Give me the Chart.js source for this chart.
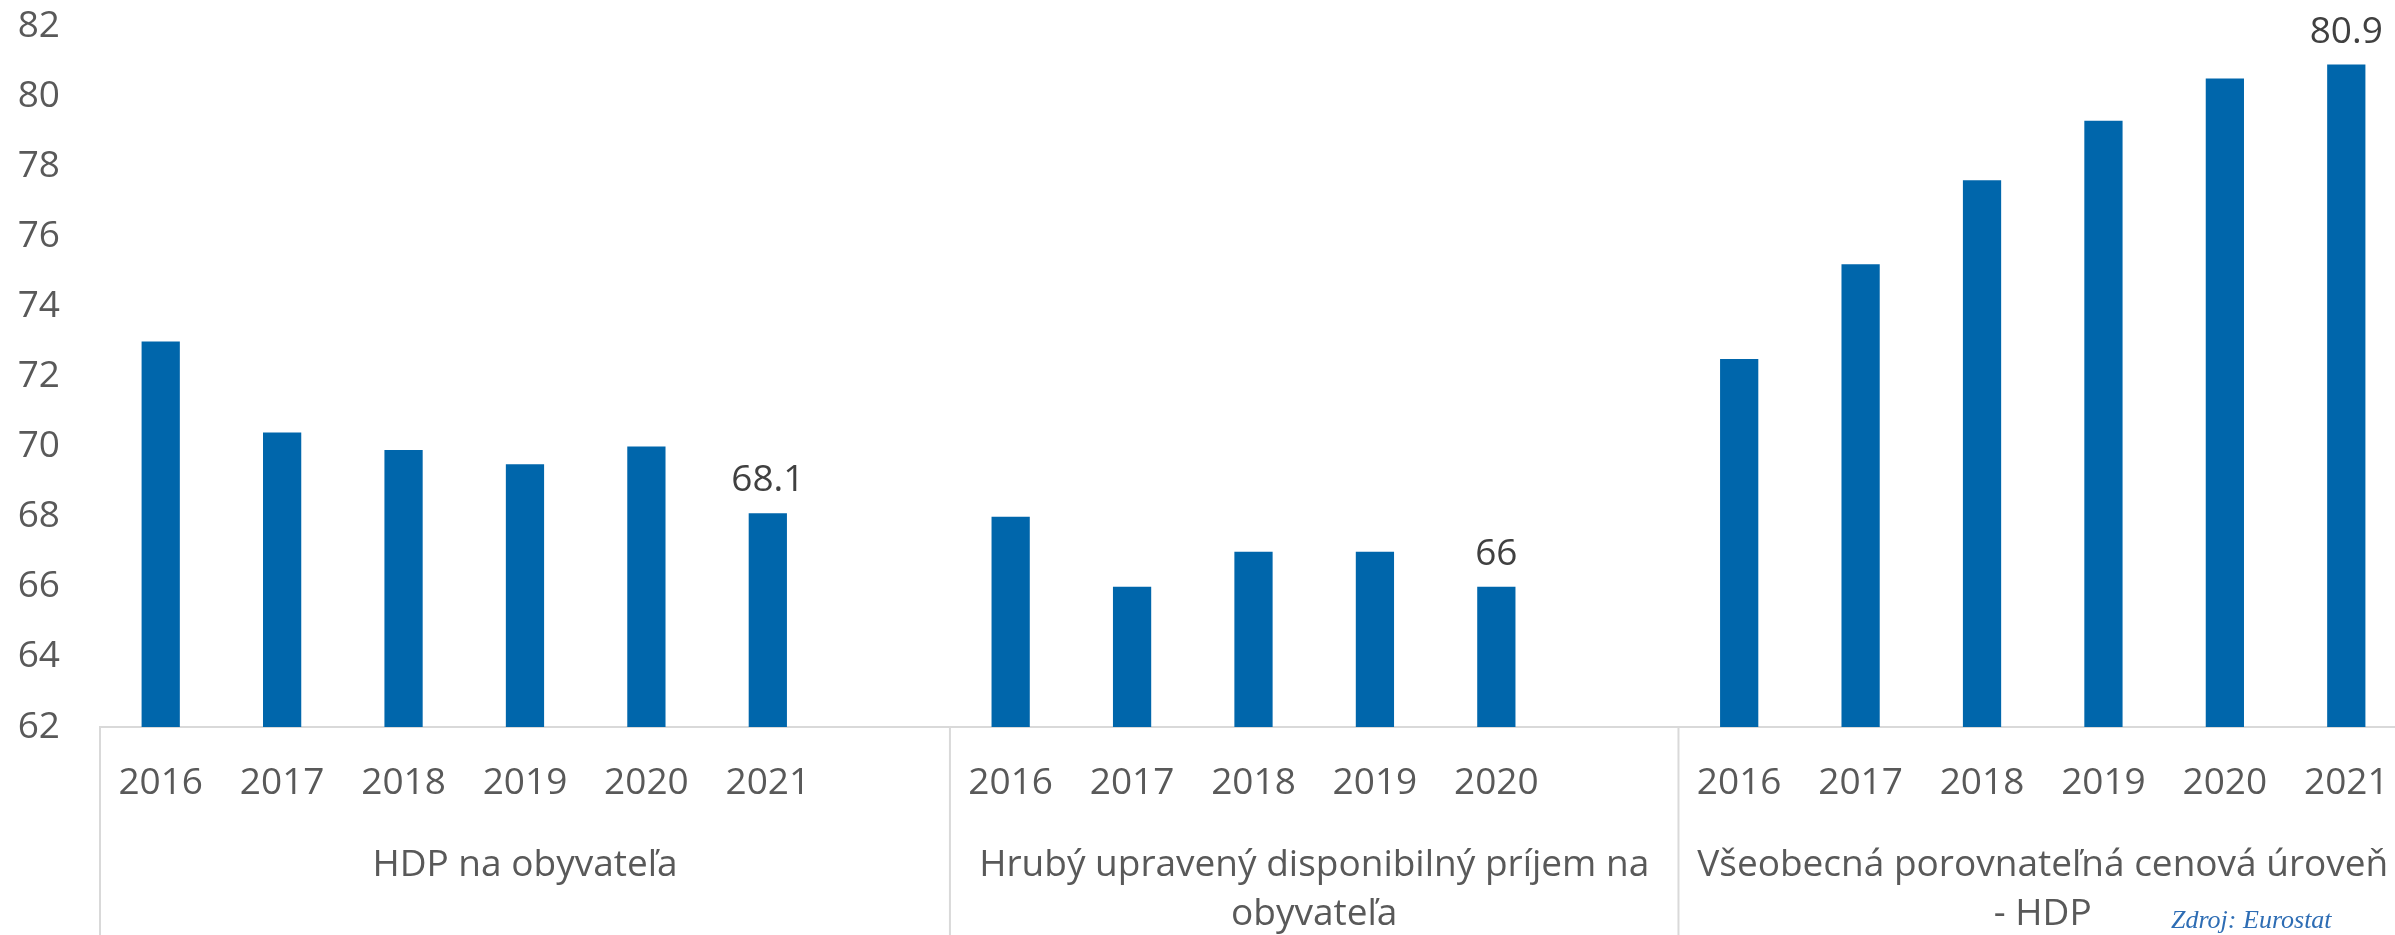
<!DOCTYPE html>
<html>
<head>
<meta charset="utf-8">
<script src="https://cdn.jsdelivr.net/npm/chart.js@4/dist/chart.umd.min.js"></script>
<style>
  html, body { margin: 0; padding: 0; background: #fff; overflow: hidden; }
  #wrap { width: 2407px; height: 935px; }
</style>
</head>
<body>
<div id="wrap"><canvas id="js-chart-bars" width="2407" height="935"></canvas></div>
<script>
// Data
const groupLabels = [
  ['HDP na obyvateľa'],
  ['Hrubý upravený disponibilný príjem na', 'obyvateľa'],
  ['Všeobecná porovnateľná cenová úroveň', '- HDP']
];
const hdpYears = ['2016', '2017', '2018', '2019', '2020', '2021'];
const hdpValues = [73.0, 70.4, 69.9, 69.5, 70.0, 68.1];
const prijemYears = ['2016', '2017', '2018', '2019', '2020'];
const prijemValues = [68, 66, 67, 67, 66];
const cenyYears = ['2016', '2017', '2018', '2019', '2020', '2021'];
const cenyValues = [72.5, 75.2, 77.6, 79.3, 80.5, 80.9];
const yTicks = [62, 64, 66, 68, 70, 72, 74, 76, 78, 80, 82];
const sourceText = 'Zdroj: Eurostat';

// Excel-like layout: one empty slot closes the first two groups
const blocks = [
  { years: hdpYears, values: hdpValues, gap: 1 },
  { years: prijemYears, values: prijemValues, gap: 1 },
  { years: cenyYears, values: cenyValues, gap: 0 }
];

let labels = [], values = [], groupStart = [], lastIdx = [];
blocks.forEach(b => {
  groupStart.push(labels.length);
  b.years.forEach((y, i) => { labels.push(y); values.push(b.values[i]); });
  lastIdx.push(labels.length - 1);
  for (let g = 0; g < b.gap; g++) { labels.push(''); values.push(null); }
});

const textColor = '#595959';
const lineColor = '#d9d9d9';
const fontFamily = "'Open Sans', sans-serif";

Chart.defaults.font.family = fontFamily;
Chart.defaults.color = textColor;

const groupPlugin = {
  id: 'groupPlugin',
  afterDraw(chart) {
    const ctx = chart.ctx;
    const x = chart.scales.x;
    const top = chart.chartArea.bottom;
    const half = (x.getPixelForValue(1) - x.getPixelForValue(0)) / 2;
    const edges = groupStart.map(i => x.getPixelForValue(i) - half);
    edges.push(x.right);

    ctx.save();
    // separators between groups
    ctx.strokeStyle = lineColor;
    ctx.lineWidth = 2;
    edges.forEach(px => {
      ctx.beginPath();
      ctx.moveTo(px, top);
      ctx.lineTo(px, chart.height);
      ctx.stroke();
    });

    // group names
    ctx.fillStyle = textColor;
    ctx.font = '37px ' + fontFamily;
    ctx.textAlign = 'center';
    ctx.textBaseline = 'alphabetic';
    groupLabels.forEach((lines, g) => {
      const cx = (edges[g] + edges[g + 1]) / 2;
      lines.forEach((t, k) => ctx.fillText(t, cx, 876 + k * 49));
    });

    // value labels on the last bar of each group
    const meta = chart.getDatasetMeta(0);
    ctx.fillStyle = '#404040';
    lastIdx.forEach(i => {
      const bar = meta.data[i];
      ctx.fillText(String(values[i]), bar.x, bar.y - 22);
    });

    // source
    ctx.fillStyle = '#2e6db4';
    ctx.font = 'italic 26px "Liberation Serif", serif';
    ctx.textAlign = 'left';
    ctx.fillText(sourceText, 2171, 928);
    ctx.restore();
  }
};

new Chart(document.getElementById('js-chart-bars'), {
  type: 'bar',
  data: {
    labels: labels,
    datasets: [{
      data: values,
      backgroundColor: '#0066ab',
      barPercentage: 0.315,
      categoryPercentage: 1
    }]
  },
  options: {
    responsive: false,
    animation: false,
    devicePixelRatio: 1,
    layout: { padding: { top: 26, left: 0, right: 0, bottom: 0 } },
    plugins: { legend: { display: false }, tooltip: { enabled: false } },
    scales: {
      x: {
        grid: { display: false, drawTicks: false },
        border: { display: true, color: lineColor, width: 2 },
        ticks: { font: { size: 37 }, color: textColor, padding: 34, maxRotation: 0, autoSkip: false },
        afterFit(scale) { scale.height = 208; scale.paddingLeft = 0; scale.paddingRight = 0; }
      },
      y: {
        min: 62,
        max: 82,
        grid: { display: false, drawTicks: false },
        border: { display: false },
        afterBuildTicks(scale) { scale.ticks = yTicks.map(v => ({ value: v })); },
        ticks: { font: { size: 37 }, color: textColor, padding: 40 },
        afterFit(scale) { scale.width = 100; scale.paddingTop = 0; scale.paddingBottom = 0; }
      }
    }
  },
  plugins: [groupPlugin]
});
</script>
</body>
</html>
